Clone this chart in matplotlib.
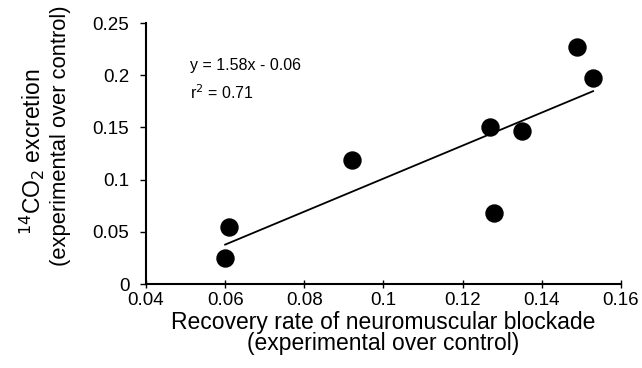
# Dispersión de excreción de 14CO2 frente a recuperación del bloqueo neuromuscular

import matplotlib.pyplot as plt
import numpy as np

plt.rcParams['font.family'] = ['Liberation Sans', 'DejaVu Sans']

# Datos
recuperacion = [0.149, 0.153, 0.127, 0.135, 0.092, 0.128, 0.061, 0.060]
excrecion = [0.227, 0.197, 0.150, 0.147, 0.119, 0.068, 0.055, 0.025]

# Recta de regresión
pendiente = 1.58
ordenada = -0.057
x_recta = np.array([min(recuperacion), max(recuperacion)])

fig = plt.figure(figsize=(6.42, 3.68), dpi=100)
ax = fig.add_axes([0.2274, 0.228, 0.7396, 0.7095])

ax.scatter(recuperacion, excrecion, s=150, color='black', zorder=3, clip_on=False)
ax.plot(x_recta, pendiente * x_recta + ordenada, color='black', lw=1.3)

ax.set_xlim(0.04, 0.16)
ax.set_ylim(0, 0.25)
ax.set_xticks([0.04, 0.06, 0.08, 0.1, 0.12, 0.14, 0.16])
ax.set_xticklabels(['0.04', '0.06', '0.08', '0.1', '0.12', '0.14', '0.16'])
ax.set_yticks([0, 0.05, 0.1, 0.15, 0.2, 0.25])
ax.set_yticklabels(['0', '0.05', '0.1', '0.15', '0.2', '0.25'])

ax.spines['top'].set_visible(False)
ax.spines['right'].set_visible(False)
ax.spines['left'].set_linewidth(1.5)
ax.spines['bottom'].set_linewidth(1.5)
ax.tick_params(axis='x', direction='inout', length=6, width=1, labelsize=13.5, pad=3)
ax.tick_params(axis='y', direction='out', length=4, width=1, labelsize=13.5, pad=8)

ax.text(0.093, 0.82, 'y = 1.58x - 0.06', transform=ax.transAxes, fontsize=11.5)
ax.text(0.093, 0.71, 'r$^2$ = 0.71', transform=ax.transAxes, fontsize=11.5)

ax.set_xlabel('Recovery rate of neuromuscular blockade\n(experimental over control)',
              fontsize=16.5, linespacing=0.9, labelpad=1)

# Etiqueta del eje y en dos líneas
fig.text(0.05, 0.587, '$^{14}$CO$_2$ excretion', rotation=90,
         ha='center', va='center', fontsize=16.5)
fig.text(0.094, 0.632, '(experimental over control)', rotation=90,
         ha='center', va='center', fontsize=15.8)

fig.savefig('out.png', dpi=100)
